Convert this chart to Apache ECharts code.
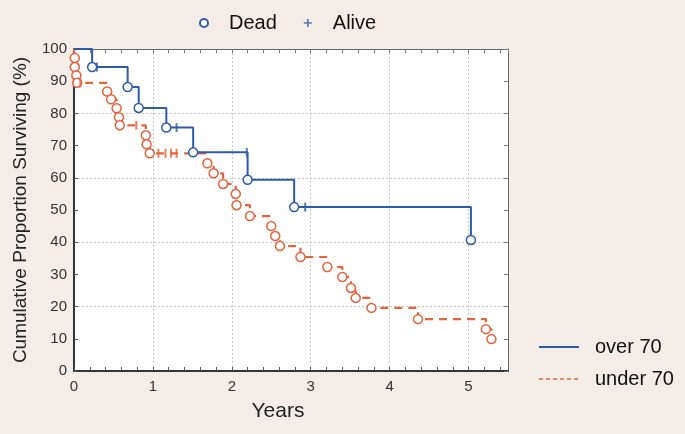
<!DOCTYPE html>
<html>
<head>
<meta charset="utf-8">
<script src="https://cdn.jsdelivr.net/npm/echarts@6.0.0/dist/echarts.min.js"></script>
<style>
  html, body { margin: 0; padding: 0; background: #f4ece7; }
  #chart { width: 685px; height: 434px; }
</style>
</head>
<body>
<div id="chart"></div>
<script>
// ---- data ----
const overTimes = [0.23, 0.68, 0.82, 1.17, 1.51, 2.20, 2.79, 5.03];
const overSurv  = [94.4, 88.2, 81.7, 75.6, 67.9, 59.4, 50.9, 40.7];
const overCensorTimes = [0.29, 1.30, 2.19, 2.93];
const overCensorSurv  = [94.4, 75.6, 67.9, 50.9];

const underTimes = [0.01, 0.01, 0.03, 0.04, 0.42, 0.47, 0.54, 0.57, 0.58, 0.91, 0.92, 0.96,
                    1.69, 1.77, 1.89, 2.05, 2.06, 2.23, 2.50, 2.55, 2.61, 2.87, 3.21, 3.40,
                    3.51, 3.57, 3.77, 4.36, 5.22, 5.29];
const underSurv  = [97.2, 94.4, 91.8, 89.5, 86.8, 84.4, 81.6, 78.8, 76.3, 73.2, 70.4, 67.6,
                    64.5, 61.4, 58.1, 55.0, 51.5, 48.1, 45.0, 41.9, 38.8, 35.4, 32.3, 29.2,
                    25.8, 22.7, 19.6, 16.1, 13.0, 9.9];
const underCensorTimes = [0.08, 0.79, 1.07, 1.16, 1.23, 1.30];
const underCensorSurv  = [89.5, 76.3, 67.6, 67.6, 67.6, 67.6];

const groupNames = ['over 70', 'under 70'];
const markNames = ['Dead', 'Alive'];
const xTitle = 'Years';
const yTitle = 'Cumulative Proportion Surviving (%)';

// ---- styles ----
const BLUE = '#2f5ba6';
const ORANGE = '#e0643c';
const FONT = '"Liberation Sans", Arial, sans-serif';

const zip = (a, b) => a.map((v, i) => [v, b[i]]);
const overLine = [[0, 100]].concat(zip(overTimes, overSurv));
const underLine = [[0, 100]].concat(zip(underTimes, underSurv));

const chart = echarts.init(document.getElementById('chart'), null, { renderer: 'canvas' });

const isInt = v => Math.abs(v - Math.round(v)) < 1e-6;
const noSym = { color: 'rgba(0,0,0,0)', borderColor: 'rgba(0,0,0,0)', borderWidth: 0 };

const option = {
  backgroundColor: '#f4ece7',
  animation: false,
  textStyle: { fontFamily: FONT },
  grid: { left: 74, right: 177, top: 49, bottom: 63, show: true, backgroundColor: '#ffffff', borderWidth: 0 },
  legend: [
    {
      data: [
        { name: markNames[0], icon: 'circle' },
        { name: markNames[1], icon: 'path://M4,0H6V4H10V6H6V10H4V6H0V4H4Z' }
      ],
      left: 194, top: 8,
      itemWidth: 8, itemHeight: 8, itemGap: 27,
      selectedMode: false,
      textStyle: { fontFamily: FONT, fontSize: 20, color: '#111', padding: [0, 0, 0, 16] }
    },
    {
      data: [
        { name: groupNames[0], itemStyle: noSym, lineStyle: { color: BLUE, width: 2, type: 'solid' } },
        { name: groupNames[1], itemStyle: noSym, lineStyle: { color: ORANGE, width: 1.5, type: [4, 3] } }
      ],
      orient: 'vertical',
      left: 533, top: 332,
      itemWidth: 40, itemHeight: 10, itemGap: 12,
      selectedMode: false,
      textStyle: { fontFamily: FONT, fontSize: 20, color: '#111', padding: [0, 0, 0, 11] }
    }
  ],
  xAxis: [
    {
      type: 'value', min: 0, max: 5.5, interval: 0.2, position: 'bottom',
      axisLine: { onZero: false, lineStyle: { color: '#333', width: 2 } },
      axisTick: { inside: true, length: 4, lineStyle: { color: '#555' } },
      axisLabel: { formatter: v => isInt(v) ? String(Math.round(v)) : '', margin: 8, fontSize: 15, color: '#333', fontFamily: FONT },
      splitLine: { show: false },
      name: xTitle, nameLocation: 'middle', nameGap: 30,
      nameTextStyle: { fontSize: 21, color: '#222', fontFamily: FONT, padding: [0, 26, 0, 0] }
    },
    {
      type: 'value', min: 0, max: 5.5, interval: 0.2, position: 'top',
      axisLine: { onZero: false, lineStyle: { color: '#666', width: 1 } },
      axisTick: { inside: true, length: 4, lineStyle: { color: '#777' } },
      axisLabel: { show: false }, splitLine: { show: false }
    },
    {
      type: 'value', min: 0, max: 5.5, interval: 1, position: 'bottom',
      axisLine: { show: false }, axisTick: { show: false }, axisLabel: { show: false },
      splitLine: { show: true, lineStyle: { color: '#c8c8c8', type: [2, 2], width: 1 } }
    }
  ],
  yAxis: [
    {
      type: 'value', min: 0, max: 100, interval: 10, position: 'left',
      axisLine: { onZero: false, lineStyle: { color: '#333', width: 2 } },
      axisTick: { inside: true, length: 4, lineStyle: { color: '#555' } },
      axisLabel: { margin: 7, fontSize: 15, color: '#333', fontFamily: FONT },
      splitLine: { show: false },
      name: yTitle, nameLocation: 'middle', nameGap: 44,
      nameTextStyle: { fontSize: 19, color: '#222', fontFamily: FONT }
    },
    {
      type: 'value', min: 0, max: 100, interval: 10, position: 'right',
      axisLine: { onZero: false, lineStyle: { color: '#666', width: 1 } },
      axisTick: { inside: true, length: 4, lineStyle: { color: '#777' } },
      axisLabel: { show: false }, splitLine: { show: false }
    },
    {
      type: 'value', min: 0, max: 100, interval: 20, position: 'left',
      axisLine: { show: false }, axisTick: { show: false }, axisLabel: { show: false },
      splitLine: { show: true, lineStyle: { color: '#c8c8c8', type: [2, 2], width: 1 } }
    }
  ],
  series: [
    {
      name: markNames[0], type: 'scatter', z: 5,
      data: zip(overTimes, overSurv),
      symbol: 'circle', symbolSize: 9,
      itemStyle: { color: '#ffffff', borderColor: BLUE, borderWidth: 1.5, opacity: 1 }
    },
    {
      name: markNames[1], type: 'scatter', z: 5,
      data: zip(overCensorTimes, overCensorSurv),
      symbol: 'rect', symbolSize: [2, 9],
      itemStyle: { color: BLUE }
    },
    {
      name: groupNames[0], type: 'line', step: 'end', z: 4,
      data: overLine, showSymbol: false, symbol: 'none',
      itemStyle: { color: BLUE },
      lineStyle: { color: BLUE, width: 2 }
    },
    {
      name: groupNames[1], type: 'line', step: 'end', z: 2,
      data: underLine, showSymbol: false, symbol: 'none',
      itemStyle: { color: ORANGE },
      lineStyle: { color: ORANGE, width: 2.2, type: [8, 6] }
    },
    {
      name: markNames[0], type: 'scatter', z: 3,
      data: zip(underTimes, underSurv),
      symbol: 'circle', symbolSize: 9,
      itemStyle: { color: '#ffffff', borderColor: ORANGE, borderWidth: 1.5, opacity: 1 }
    },
    {
      name: markNames[1], type: 'scatter', z: 3,
      data: zip(underCensorTimes, underCensorSurv),
      symbol: 'rect', symbolSize: [2, 9],
      itemStyle: { color: ORANGE }
    }
  ]
};

chart.setOption(option);
</script>
</body>
</html>
